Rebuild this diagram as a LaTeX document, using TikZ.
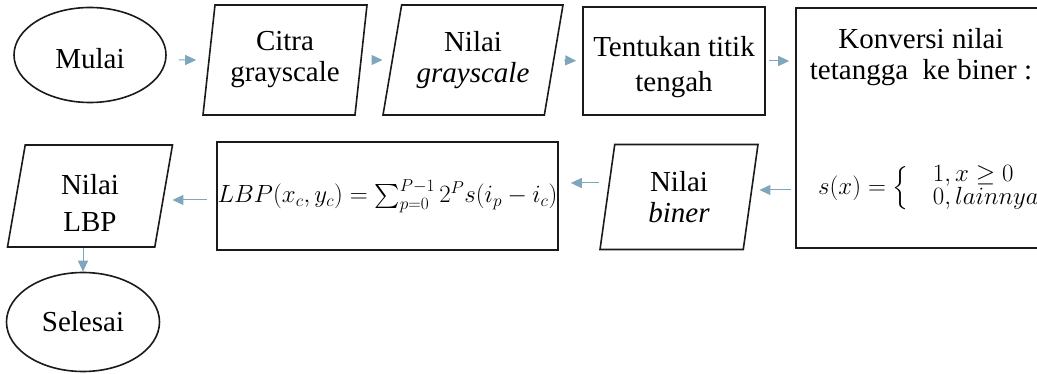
\documentclass[tikz,border=0pt]{standalone}
\usepackage{amsmath,amssymb}
\usepackage{fontspec}
\setmainfont{Liberation Serif}
\usetikzlibrary{arrows.meta,shapes.geometric}
\definecolor{arrc}{HTML}{7FA6BC}
\definecolor{linec}{HTML}{1A1A1A}
\tikzset{
  ar/.style={-{Triangle[length=11pt,width=10pt]},line width=1pt,arrc},
  term/.style={ellipse,draw=linec,line width=1.6pt,align=center,inner sep=0pt},
  io/.style 2 args={trapezium,trapezium left angle=#1,trapezium right angle=#2,
    trapezium stretches body,draw=linec,line width=1.6pt,align=center,inner sep=0pt},
  proc/.style={rectangle,draw=linec,line width=1.6pt,align=center,inner sep=0pt}
}
\newcommand{\turun}[1]{\rule{0pt}{#1}}

\begin{document}
\begin{tikzpicture}[x=1pt,y=-1pt,font=\fontsize{29}{31}\selectfont]
\clip (0,0) rectangle (1037,374);
% baris atas
\node[term,minimum width=152pt,minimum height=95pt] (mulai) at (90,55) {\turun{27pt}Mulai};
\node[io={78}{102},minimum width=164pt,minimum height=110pt] (citra) at (285,60) {Citra\\grayscale};
\node[io={72}{108},minimum width=180pt,minimum height=110pt] (nilgray) at (473,60) {Nilai\\\textit{grayscale}};
\node[proc,minimum width=182pt,minimum height=108pt] (titik) at (674,61) {\turun{33pt}Tentukan titik\\[4pt]tengah};
\node[proc,minimum width=249pt,minimum height=240pt] (konv) at (920.5,128) {};
\node[align=center,inner sep=0pt] (konvtxt) at (921,57) {Konversi nilai\\tetangga\ \ ke biner :};
\node[anchor=west,inner sep=0pt,font=\fontsize{24}{28}\selectfont] (sfun) at (818,188)
  {$s(x)=\left\{\quad\renewcommand{\arraystretch}{0.66}\begin{array}{@{}l}1, x\geq 0\\0, lainnya\end{array}\right.$};
% baris bawah
\node[io={76}{104},minimum width=165pt,minimum height=102pt] (nillbp) at (90,196) {\turun{34pt}Nilai\\[6pt]LBP};
\node[proc,minimum width=341pt,minimum height=108pt,font=\fontsize{24}{28}\selectfont] (lbpform) at (387.5,196)
  {$LBP(x_c,y_c)=\sum_{p=0}^{P-1}2^P s(i_p-i_c)$};
\node[io={74}{106},minimum width=158pt,minimum height=105pt] (nilbin) at (679,197) {Nilai\\\textit{biner}};
\node[term,minimum width=153pt,minimum height=99pt] (selesai) at (83,322) {Selesai};
% panah
\draw[ar,shorten <=12pt,shorten >=12pt] (mulai.east |- citra) -- (citra.west);
\draw[ar,shorten <=12pt,shorten >=9pt] (citra.east) -- (nilgray.west);
\draw[ar,shorten <=10pt,shorten >=6pt] (nilgray.east) -- (titik.west);
\draw[ar,shorten <=3pt,shorten >=6pt] (titik.east) -- (titik.east -| konv.west);
\draw[ar,shorten <=4pt,shorten >=8pt] ([yshift=7pt]konv.west |- nilbin.east) -- ([yshift=7pt]nilbin.east);
\draw[ar,shorten <=8pt,shorten >=12pt] ([yshift=14pt]nilbin.west) -- ([yshift=14pt]nilbin.west -| lbpform.east);
\draw[ar,shorten <=9pt,shorten >=8pt] ([yshift=-4pt]lbpform.west) -- ([yshift=-4pt]lbpform.west -| nillbp.east);
\draw[ar] (nillbp.south -| selesai.north) -- (selesai.north);
\end{tikzpicture}
\end{document}
